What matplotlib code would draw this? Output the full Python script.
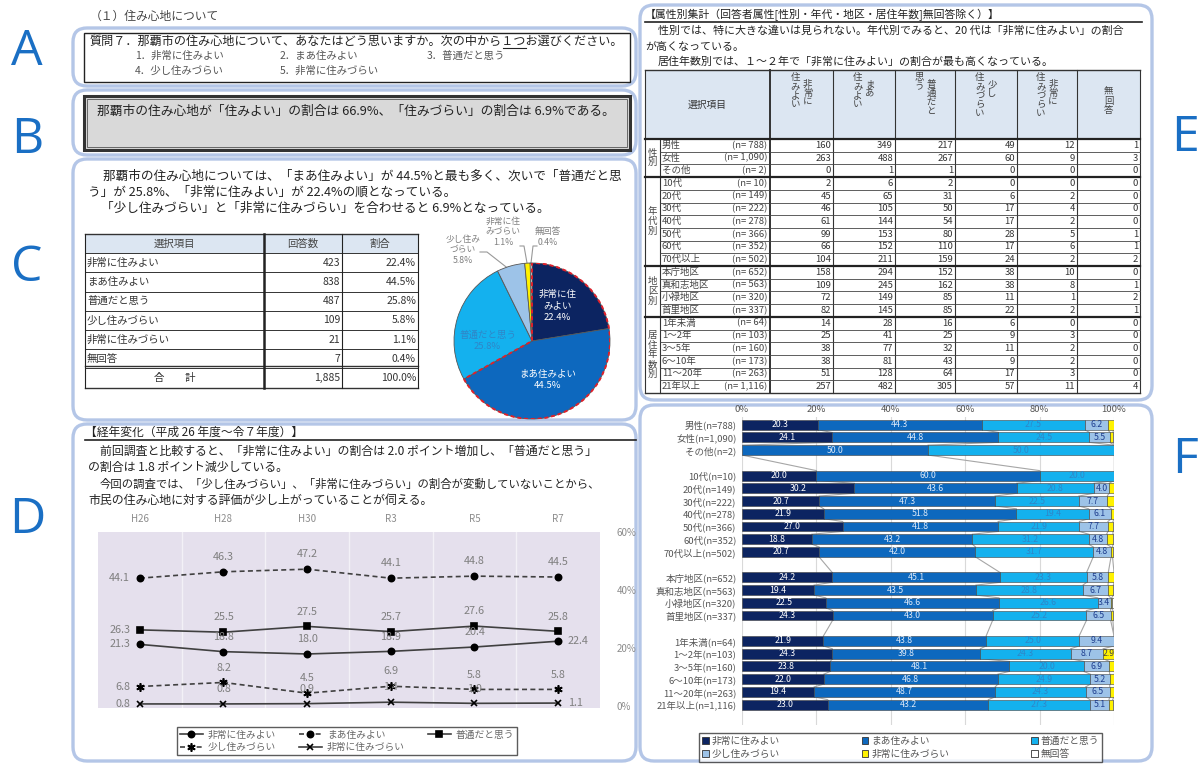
import numpy as np
import matplotlib
matplotlib.use('Agg')
import matplotlib.pyplot as plt
from matplotlib.patches import FancyBboxPatch, Rectangle, Wedge, Patch

plt.rcParams['font.family'] = ['Noto Sans CJK JP', 'DejaVu Sans']

W, H = 1202, 764

# ---- data ----
choices = ['非常に住みよい', 'まあ住みよい', '普通だと思う', '少し住みづらい', '非常に住みづらい', '無回答']
counts = [423, 838, 487, 109, 21, 7]
shares = [22.4, 44.5, 25.8, 5.8, 1.1, 0.4]

years = ['H26', 'H28', 'H30', 'R3', 'R5', 'R7']
trend_very_good = [21.3, 18.8, 18.0, 18.9, 20.4, 22.4]
trend_good = [44.1, 46.3, 47.2, 44.1, 44.8, 44.5]
trend_normal = [26.3, 25.5, 27.5, 25.7, 27.6, 25.8]
trend_bit_bad = [6.8, 8.2, 4.5, 6.9, 5.8, 5.8]
trend_very_bad = [0.8, 0.8, 0.9, 1.4, 1.0, 1.1]

groups = ['性\n別', '年\n代\n別', '地\n区\n別', '居\n住\n年\n数\n別']
group_sizes = [3, 7, 4, 6]
attr_names = ['男性', '女性', 'その他',
              '10代', '20代', '30代', '40代', '50代', '60代', '70代以上',
              '本庁地区', '真和志地区', '小禄地区', '首里地区',
              '1年未満', '1～2年', '3～5年', '6～10年', '11～20年', '21年以上']
attr_n = ['788', '1,090', '2',
          '10', '149', '222', '278', '366', '352', '502',
          '652', '563', '320', '337',
          '64', '103', '160', '173', '263', '1,116']
attr_counts = [
    [160, 349, 217, 49, 12, 1],
    [263, 488, 267, 60, 9, 3],
    [0, 1, 1, 0, 0, 0],
    [2, 6, 2, 0, 0, 0],
    [45, 65, 31, 6, 2, 0],
    [46, 105, 50, 17, 4, 0],
    [61, 144, 54, 17, 2, 0],
    [99, 153, 80, 28, 5, 1],
    [66, 152, 110, 17, 6, 1],
    [104, 211, 159, 24, 2, 2],
    [158, 294, 152, 38, 10, 0],
    [109, 245, 162, 38, 8, 1],
    [72, 149, 85, 11, 1, 2],
    [82, 145, 85, 22, 2, 1],
    [14, 28, 16, 6, 0, 0],
    [25, 41, 25, 9, 3, 0],
    [38, 77, 32, 11, 2, 0],
    [38, 81, 43, 9, 2, 0],
    [51, 128, 64, 17, 3, 0],
    [257, 482, 305, 57, 11, 4],
]
head_parts = [('非常に', '住みよい'), ('まあ', '住みよい'), ('普通だと', '思う'),
              ('少し', '住みづらい'), ('非常に', '住みづらい'), ('無回答', '')]

colors = ['#0c2461', '#0d68be', '#14b1ee', '#9dc3e8', '#fff200', '#ffffff']
txt = '#222222'
gray = '#7f7f7f'

fig = plt.figure(figsize=(W / 100, H / 100), dpi=100)
bg = fig.add_axes([0, 0, 1, 1])
bg.set_xlim(0, W)
bg.set_ylim(H, 0)
bg.axis('off')


def axes_px(x0, y0, x1, y1):
    return fig.add_axes([x0 / W, 1 - y1 / H, (x1 - x0) / W, (y1 - y0) / H])


def panel(x0, y0, x1, y1):
    bg.add_patch(FancyBboxPatch((x0, y0), x1 - x0, y1 - y0,
                                boxstyle='round,pad=0,rounding_size=14',
                                fc='white', ec='#b4c6e7', lw=2.4, zorder=1))


def t(x, y, s, size=9, **kw):
    kw.setdefault('color', txt)
    kw.setdefault('va', 'center')
    bg.text(x, y, s, fontsize=size, zorder=5, **kw)


# panels
panel(73, 28, 636, 86)
panel(73, 90, 636, 155)
panel(73, 159, 636, 420)
panel(73, 424, 636, 761)
panel(640, 5, 1152, 400)
panel(640, 405, 1152, 761)

for letter, (x, y) in zip('ABCDEF', [(27, 52), (27, 140), (27, 268), (27, 520), (1185, 138), (1185, 460)]):
    bg.text(x, y, letter, fontsize=36, color='#1a6fc4', ha='center', va='center',
            family=['Open Sans', 'DejaVu Sans'])

t(90, 16, '（１）住み心地について', 8.5, color='#444444')

# ---- A ----
bg.add_patch(Rectangle((84, 33), 546, 49, fc='none', ec='#222', lw=1.0, zorder=3))
t(90, 41, '質問７．那覇市の住み心地について、あなたはどう思いますか。次の中から１つお選びください。', 8.7)
bg.plot([503, 526], [48, 48], color='#222', lw=0.8, zorder=5)
for (x, y), s in zip([(135, 56), (280, 56), (427, 56), (135, 71), (280, 71)],
                     ['1．非常に住みよい', '2．まあ住みよい', '3．普通だと思う', '4．少し住みづらい', '5．非常に住みづらい']):
    t(x, y, s, 7.5, color='#555555')

# ---- B ----
bg.add_patch(Rectangle((84, 96), 546, 54, fc='#d9d9d9', ec='#333', lw=2.2, zorder=3))
bg.add_patch(Rectangle((87, 99), 540, 48, fc='none', ec='#555', lw=0.6, zorder=3))
t(97, 111, '那覇市の住み心地が「住みよい」の割合は 66.9%、「住みづらい」の割合は 6.9%である。', 9.2)

# ---- C ----
t(103, 176, '那覇市の住み心地については、「まあ住みよい」が 44.5%と最も多く、次いで「普通だと思', 9.1)
t(88, 192, 'う」が 25.8%、「非常に住みよい」が 22.4%の順となっている。', 9.1)
t(101, 208, '「少し住みづらい」と「非常に住みづらい」を合わせると 6.9%となっている。', 9.1)

cx = [85, 264, 342, 418]
ry0, rh = 234, 19.2
nrow = len(choices) + 2
bg.add_patch(Rectangle((cx[0], ry0), cx[-1] - cx[0], rh, fc='#dce6f2', ec='none', zorder=2))
for i in range(nrow + 1):
    y = ry0 + i * rh
    bg.plot([cx[0], cx[-1]], [y, y], color='#333', lw=0.7 if i not in (0, nrow) else 1.0, zorder=3)
bg.plot([cx[0], cx[-1]], [ry0 + 7 * rh - 2, ry0 + 7 * rh - 2], color='#333', lw=1.0, zorder=3)
for j, x in enumerate(cx):
    bg.plot([x, x], [ry0, ry0 + nrow * rh], color='#222', lw=1.8 if j == 1 else 0.8, zorder=3)
t((cx[0] + cx[1]) / 2, ry0 + rh / 2, '選択項目', 7.5, ha='center', color='#444')
t((cx[1] + cx[2]) / 2, ry0 + rh / 2, '回答数', 7.5, ha='center', color='#444')
t((cx[2] + cx[3]) / 2, ry0 + rh / 2, '割合', 7.5, ha='center', color='#444')
for i, (c, n, s) in enumerate(zip(choices, counts, shares)):
    y = ry0 + (i + 1.5) * rh
    t(cx[0] + 2, y, c, 7.5, color='#333')
    t(cx[2] - 2, y, f'{n:,}', 7.5, ha='right', color='#333')
    t(cx[3] - 2, y, f'{s:.1f}%', 7.5, ha='right', color='#333')
y = ry0 + 7.5 * rh
t((cx[0] + cx[1]) / 2, y, '合　　計', 7.5, ha='center', color='#333')
t(cx[2] - 2, y, f'{sum(counts):,}', 7.5, ha='right', color='#333')
t(cx[3] - 2, y, f'{sum(shares):.1f}%', 7.5, ha='right', color='#333')

# pie
pc, pr = (532, 341), 78
pax = axes_px(pc[0] - pr, pc[1] - pr, pc[0] + pr, pc[1] + pr)
pax.pie(counts, colors=colors, startangle=90, counterclock=False, radius=1,
        wedgeprops=dict(edgecolor='#555', linewidth=0.6))
good = (counts[0] + counts[1]) / sum(counts) * 360
pax.add_patch(Wedge((0, 0), 1, 90 - good, 90, fill=False, ec='#e0202a', ls=(0, (2, 1.5)), lw=1.4))
pax.set_xlim(-1, 1)
pax.set_ylim(-1, 1)
pax.set_aspect('equal')
pax.axis('off')
pax.text(0.33, 0.45, f'非常に住\nみよい\n{shares[0]}%', color='white', fontsize=6.8, ha='center', va='center', linespacing=1.3)
pax.text(0.2, -0.5, f'まあ住みよい\n{shares[1]}%', color='white', fontsize=6.8, ha='center', va='center', linespacing=1.3)
pax.text(-0.57, 0.0, f'普通だと思う\n{shares[2]}%', color='#2f86c8', fontsize=6.8, ha='center', va='center', linespacing=1.3)
t(463, 250, f'少し住み\nづらい\n{shares[3]}%', 6.3, ha='center', color=gray, linespacing=1.2)
t(503, 232, f'非常に住\nみづらい\n{shares[4]}%', 6.3, ha='center', color=gray, linespacing=1.2)
t(548, 237, f'無回答\n{shares[5]}%', 6.3, ha='center', color=gray, linespacing=1.2)
bg.plot([480, 487, 510], [252, 252, 270], color='#999', lw=0.8, zorder=4)
bg.plot([520, 524, 527], [246, 246, 263], color='#999', lw=0.8, zorder=4)
bg.plot([537, 533, 531], [246, 246, 263], color='#999', lw=0.8, zorder=4)

# ---- D ----
t(85, 432, '【経年変化（平成 26 年度～令７年度）】', 8.5)
bg.plot([85, 636], [440, 440], color='#222', lw=1.2, zorder=4)
t(100, 451, '前回調査と比較すると、「非常に住みよい」の割合は 2.0 ポイント増加し、「普通だと思う」', 8.6)
t(88, 467, 'の割合は 1.8 ポイント減少している。', 8.6)
t(100, 484, '今回の調査では、「少し住みづらい」、「非常に住みづらい」の割合が変動していないことから、', 8.2)
t(88, 500, '市民の住み心地に対する評価が少し上がっていることが伺える。', 8.6)

lax = axes_px(98, 532, 600, 708)
lax.set_facecolor('#e5e0ed')
xs = np.arange(len(years))
series = [
    (trend_very_good, '-', 'o', 4.5, '非常に住みよい'),
    (trend_good, (0, (3, 2)), 'o', 4.5, 'まあ住みよい'),
    (trend_normal, '-', 's', 4.5, '普通だと思う'),
    (trend_bit_bad, (0, (3, 2)), (6, 2, 0), 6, '少し住みづらい'),
    (trend_very_bad, '-', 'x', 4.5, '非常に住みづらい'),
]
handles = []
for vals, ls, mk, ms, name in series:
    h, = lax.plot(xs, vals, color='#404040', ls=ls, lw=1.2, marker=mk, ms=ms,
                  mfc='black', mec='black', mew=1.2, label=name, clip_on=False)
    handles.append(h)
    for i, v in enumerate(vals):
        if i == 0:
            off, ha, va = (-7, 0), 'right', 'center'
        elif i == len(vals) - 1 and name in ('非常に住みよい', '非常に住みづらい'):
            off, ha, va = (7, 0), 'left', 'center'
        else:
            off, ha, va = (0, 7), 'center', 'bottom'
        lax.annotate(f'{v:.1f}', (i, v), xytext=off, textcoords='offset points',
                     ha=ha, va=va, fontsize=7.8, color=gray)
for b in np.arange(0.5, len(years) - 1, 1):
    lax.axvline(b, color='#f3f1f7', lw=1.0, zorder=0)
lax.set_xlim(-0.5, len(years) - 0.5)
lax.set_ylim(-0.6, 60)
lax.set_xticks(xs)
lax.set_xticklabels(years)
lax.xaxis.tick_top()
lax.set_yticks([0, 20, 40, 60])
lax.set_yticklabels([f'{v}%' for v in [0, 20, 40, 60]])
lax.yaxis.tick_right()
lax.tick_params(length=0, labelsize=7, labelcolor='#8c8c8c', pad=6)
lax.tick_params(axis='y', pad=12)
for s in lax.spines.values():
    s.set_visible(False)
order = [0, 3, 1, 4, 2]
fig.legend([handles[i] for i in order], [handles[i].get_label() for i in order],
           ncol=3, loc='upper left', mode='expand',
           bbox_to_anchor=(172 / W, 1 - 756 / H, 350 / W, 34 / H),
           fontsize=7, frameon=True, fancybox=False, edgecolor='#333',
           handlelength=2.4, handletextpad=0.5, columnspacing=0.8,
           labelspacing=0.25, borderpad=0.3, labelcolor='#666')

# ---- E ----
t(645, 15, '【属性別集計（回答者属性[性別・年代・地区・居住年数]無回答除く）】', 7.8)
bg.plot([645, 1142], [22, 22], color='#222', lw=1.2, zorder=4)
t(658, 31, '性別では、特に大きな違いは見られない。年代別でみると、20 代は「非常に住みよい」の割合', 7.9)
t(645, 47, 'が高くなっている。', 7.9)
t(658, 62, '居住年数別では、１～２年で「非常に住みよい」の割合が最も高くなっている。', 7.9)

ex = [645, 660, 770, 833, 895, 955, 1017, 1077, 1140]
ey0, ey1, erh = 70, 139, 12.7
nr = len(attr_names)
ebot = ey1 + nr * erh
bg.add_patch(Rectangle((ex[0], ey0), ex[-1] - ex[0], ey1 - ey0, fc='#dce6f2', ec='none', zorder=2))
bg.plot([ex[0], ex[-1]], [ey0, ey0], color='#333', lw=1.0, zorder=3)
bg.plot([ex[0], ex[-1]], [ebot, ebot], color='#333', lw=1.0, zorder=3)
for k, x in enumerate(ex):
    top = ey1 if k == 1 else ey0
    bg.plot([x, x], [top, ebot], color='#333', lw=1.4 if k == 2 else 0.8, zorder=3)
t((ex[0] + ex[2]) / 2, (ey0 + ey1) / 2, '選択項目', 7, ha='center', color='#333')
for k, (right, left) in enumerate(head_parts):
    c = (ex[k + 2] + ex[k + 3]) / 2
    if left:
        t(c + 6, 80, '\n'.join(right), 6.8, ha='center', va='top', color='#444', linespacing=1.0)
        t(c - 6, 73, '\n'.join(left), 6.8, ha='center', va='top', color='#444', linespacing=1.0)
    else:
        t(c, 88, '\n'.join(right), 6.8, ha='center', va='top', color='#444', linespacing=1.0)
row = 0
for g, size in zip(groups, group_sizes):
    ytop = ey1 + row * erh
    bg.plot([ex[0], ex[-1]], [ytop, ytop], color='#222', lw=1.6, zorder=3)
    t((ex[0] + ex[1]) / 2, ytop + size * erh / 2, g, 6.8, ha='center', color='#444', linespacing=1.1)
    for r in range(size):
        i = row + r
        y = ey1 + (i + 0.5) * erh
        if r > 0:
            bg.plot([ex[1], ex[-1]], [y - erh / 2, y - erh / 2], color='#444', lw=0.6, zorder=3)
        t(ex[1] + 2, y, attr_names[i], 6.8, color='#444')
        t(ex[2] - 3, y, f'(n= {attr_n[i]})', 6.8, ha='right', color='#444')
        for k, v in enumerate(attr_counts[i]):
            t(ex[k + 3] - 2, y, str(v), 6.8, ha='right', color='#333')
    row += size

# ---- F ----
slots = []
pos = 0
for size in group_sizes:
    slots.extend(range(pos, pos + size))
    pos += size + 1
nslot = pos - 1
fax = axes_px(742, 425 - 0.6 * 13.27, 1114, 717 + 0.6 * 13.27)
bar_h = 0.78
rows_pct = [np.array(c) / sum(c) * 100 for c in attr_counts]
label_colors = ['white', '#dce9f8', '#2f86c8', '#1f3f8f', '#444444', '#444444']
# series lines between consecutive bars
for a in range(len(slots) - 1):
    ca = np.cumsum(rows_pct[a])[:-1]
    cb = np.cumsum(rows_pct[a + 1])[:-1]
    for k in range(len(ca)):
        fax.plot([ca[k], cb[k]], [slots[a] + bar_h / 2, slots[a + 1] - bar_h / 2],
                 color='#a6a6a6', lw=0.8, zorder=1)
for i, (y, p) in enumerate(zip(slots, rows_pct)):
    left = 0
    for k, v in enumerate(p):
        if v > 0:
            fax.barh(y, v, left=left, height=bar_h, color=colors[k], edgecolor='#404040',
                     linewidth=0.4, zorder=2)
            if v >= 2.5:
                fax.text(left + v / 2, y, f'{v:.1f}', ha='center', va='center',
                         fontsize=6.3, color=label_colors[k], zorder=3)
        left += v
fax.set_xlim(0, 100)
fax.set_ylim(nslot + 0.6, -0.6)
fax.set_xticks(range(0, 101, 20))
fax.set_xticklabels([f'{v}%' for v in range(0, 101, 20)])
fax.xaxis.tick_top()
fax.set_yticks(slots)
fax.set_yticklabels([f'{nm}(n={n})' for nm, n in zip(attr_names, attr_n)])
fax.tick_params(length=0, labelsize=6.8, labelcolor='#555')
fax.tick_params(axis='x', pad=2)
fax.tick_params(axis='y', pad=4)
fax.grid(axis='x', color='#d9d9d9', lw=0.8, zorder=0)
fax.set_axisbelow(True)
for s in fax.spines.values():
    s.set_visible(False)
fax.patch.set_alpha(0)
fh = [Patch(facecolor=c, edgecolor='#333', lw=0.6) for c in colors]
forder = [0, 3, 1, 4, 2, 5]
fig.legend([fh[i] for i in forder], [choices[i] for i in forder],
           ncol=3, loc='upper left', mode='expand',
           bbox_to_anchor=(694 / W, 1 - 761 / H, 413 / W, 33 / H),
           fontsize=7, frameon=True, fancybox=False, edgecolor='#333',
           handlelength=0.7, handleheight=0.7, handletextpad=0.3,
           labelspacing=0.3, borderpad=0.3, labelcolor='#555')

fig.savefig('out.png', dpi=100)
